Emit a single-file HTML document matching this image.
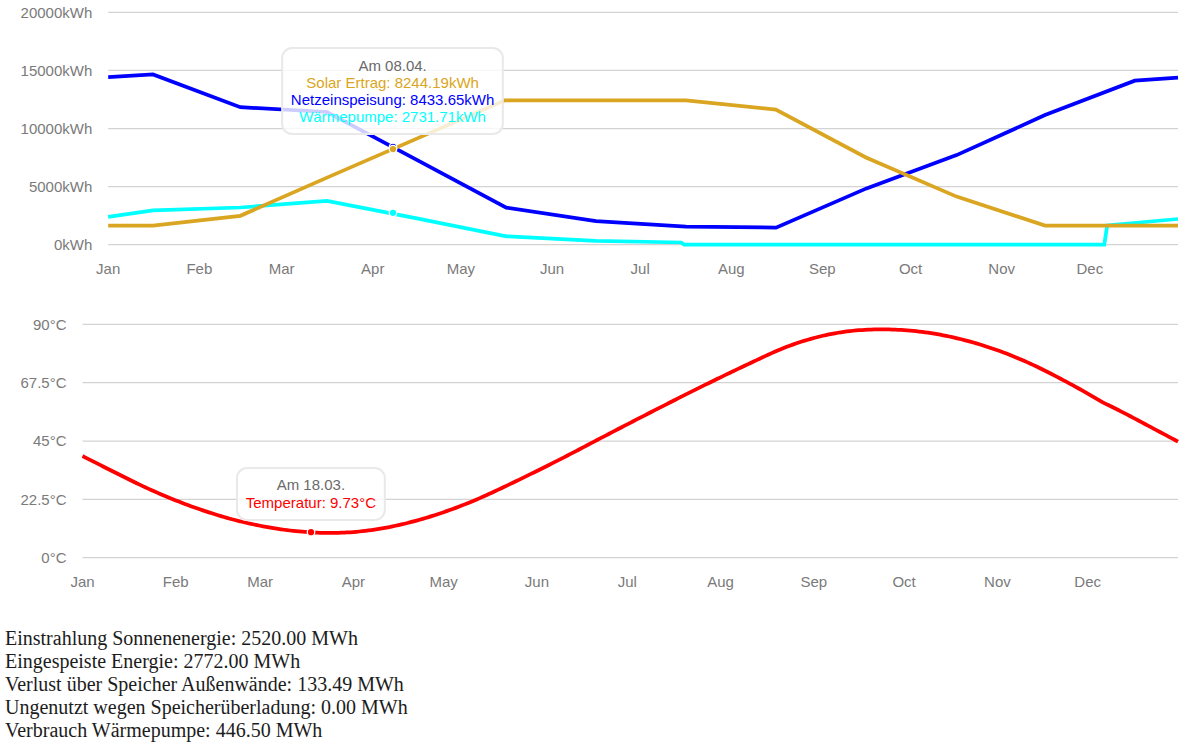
<!DOCTYPE html><html><head><meta charset="utf-8"><title>Solar</title><style>
html,body{margin:0;padding:0;background:#fff;}body{width:1191px;height:742px;overflow:hidden;}
svg{display:block;position:absolute;left:0;top:0;}
.t{font-family:"Liberation Sans",sans-serif;font-size:15px;fill:#7a7a7a;}
.s{font-family:"Liberation Serif",serif;font-size:20px;fill:#1c1c1c;}
.g{stroke:#d3d3d3;stroke-width:1.25;fill:none;}
.l{fill:none;stroke-width:3.75;stroke-linejoin:miter;stroke-linecap:butt;}
</style></head><body>
<svg width="1191" height="742" viewBox="0 0 1191 742">
<line class="g" x1="108.20" x2="1178.00" y1="12.38" y2="12.38"/>
<line class="g" x1="108.20" x2="1178.00" y1="70.46" y2="70.46"/>
<line class="g" x1="108.20" x2="1178.00" y1="128.55" y2="128.55"/>
<line class="g" x1="108.20" x2="1178.00" y1="186.64" y2="186.64"/>
<line class="g" x1="108.20" x2="1178.00" y1="244.72" y2="244.72"/>
<text class="t" x="92.3" y="17.57" text-anchor="end">20000kWh</text>
<text class="t" x="92.3" y="75.66" text-anchor="end">15000kWh</text>
<text class="t" x="92.3" y="133.75" text-anchor="end">10000kWh</text>
<text class="t" x="92.3" y="191.84" text-anchor="end">5000kWh</text>
<text class="t" x="92.3" y="249.92" text-anchor="end">0kWh</text>
<text class="t" x="108.20" y="274" text-anchor="middle">Jan</text>
<text class="t" x="199.31" y="274" text-anchor="middle">Feb</text>
<text class="t" x="281.60" y="274" text-anchor="middle">Mar</text>
<text class="t" x="372.71" y="274" text-anchor="middle">Apr</text>
<text class="t" x="460.88" y="274" text-anchor="middle">May</text>
<text class="t" x="551.99" y="274" text-anchor="middle">Jun</text>
<text class="t" x="640.16" y="274" text-anchor="middle">Jul</text>
<text class="t" x="731.27" y="274" text-anchor="middle">Aug</text>
<text class="t" x="822.38" y="274" text-anchor="middle">Sep</text>
<text class="t" x="910.55" y="274" text-anchor="middle">Oct</text>
<text class="t" x="1001.66" y="274" text-anchor="middle">Nov</text>
<text class="t" x="1089.83" y="274" text-anchor="middle">Dec</text>
<path class="l" stroke="#00ffff" d="M108.20,216.80 L153.00,210.40 L240.30,207.50 L327.00,201.00 L416.80,218.30 L506.30,236.30 L596.00,240.80 L681.30,242.50 L684.20,244.70 L1104.30,244.70 L1107.20,225.40 L1178.00,219.00"/>
<path class="l" stroke="#0000ff" d="M108.20,77.20 L153.00,74.40 L240.30,107.20 L327.00,112.00 L416.80,159.90 L506.30,207.60 L596.00,221.20 L686.00,226.60 L776.00,227.60 L866.50,188.40 L956.60,155.10 L1045.00,115.10 L1134.80,80.70 L1178.00,77.60"/>
<path class="l" stroke="#daa520" d="M108.20,225.50 L153.00,225.50 L240.30,215.80 L327.00,177.60 L416.80,138.60 L504.90,100.40 L596.00,100.40 L686.00,100.40 L775.80,109.60 L866.00,157.50 L956.60,196.60 L1045.00,225.50 L1178.00,225.50"/>
<circle cx="393.0" cy="212.85" r="3.75" fill="#00ffff" stroke="#fff" stroke-width="1.25"/>
<circle cx="393.0" cy="146.9" r="3.75" fill="#0000ff" stroke="#fff" stroke-width="1.25"/>
<circle cx="393.0" cy="149.0" r="3.75" fill="#daa520" stroke="#fff" stroke-width="1.25"/>
<rect x="282.15" y="48.0" width="220.7" height="86.0" rx="10" ry="10" fill="rgba(255,255,255,0.8)" stroke="#e9e9e9" stroke-width="2"/>
<text class="t" x="392.6" y="70.7" text-anchor="middle" style="fill:#6a6a6a">Am 08.04.</text>
<text class="t" x="392.6" y="87.8" text-anchor="middle" style="fill:#daa520">Solar Ertrag: 8244.19kWh</text>
<text class="t" x="392.6" y="104.9" text-anchor="middle" style="fill:#0000ff">Netzeinspeisung: 8433.65kWh</text>
<text class="t" x="392.6" y="122.0" text-anchor="middle" style="fill:#00ffff">Wärmepumpe: 2731.71kWh</text>
<line class="g" x1="82.50" x2="1178.00" y1="324.40" y2="324.40"/>
<line class="g" x1="82.50" x2="1178.00" y1="382.70" y2="382.70"/>
<line class="g" x1="82.50" x2="1178.00" y1="441.00" y2="441.00"/>
<line class="g" x1="82.50" x2="1178.00" y1="499.30" y2="499.30"/>
<line class="g" x1="82.50" x2="1178.00" y1="557.60" y2="557.60"/>
<text class="t" x="66.5" y="329.60" text-anchor="end">90°C</text>
<text class="t" x="66.5" y="387.90" text-anchor="end">67.5°C</text>
<text class="t" x="66.5" y="446.20" text-anchor="end">45°C</text>
<text class="t" x="66.5" y="504.50" text-anchor="end">22.5°C</text>
<text class="t" x="66.5" y="562.80" text-anchor="end">0°C</text>
<text class="t" x="82.50" y="586.7" text-anchor="middle">Jan</text>
<text class="t" x="175.80" y="586.7" text-anchor="middle">Feb</text>
<text class="t" x="260.07" y="586.7" text-anchor="middle">Mar</text>
<text class="t" x="353.37" y="586.7" text-anchor="middle">Apr</text>
<text class="t" x="443.65" y="586.7" text-anchor="middle">May</text>
<text class="t" x="536.95" y="586.7" text-anchor="middle">Jun</text>
<text class="t" x="627.24" y="586.7" text-anchor="middle">Jul</text>
<text class="t" x="720.54" y="586.7" text-anchor="middle">Aug</text>
<text class="t" x="813.84" y="586.7" text-anchor="middle">Sep</text>
<text class="t" x="904.12" y="586.7" text-anchor="middle">Oct</text>
<text class="t" x="997.42" y="586.7" text-anchor="middle">Nov</text>
<text class="t" x="1087.71" y="586.7" text-anchor="middle">Dec</text>
<path class="l" stroke="#ff0000" d="M82.50,456.02 L85.51,457.55 L88.52,459.09 L91.53,460.62 L94.54,462.14 L97.55,463.67 L100.56,465.19 L103.57,466.71 L106.58,468.23 L109.59,469.74 L112.60,471.25 L115.61,472.76 L118.62,474.26 L121.62,475.77 L124.63,477.27 L127.64,478.76 L130.65,480.26 L133.66,481.74 L136.67,483.20 L139.68,484.64 L142.69,486.07 L145.70,487.47 L148.71,488.85 L151.72,490.21 L154.73,491.56 L157.74,492.88 L160.75,494.19 L163.76,495.47 L166.77,496.73 L169.78,497.98 L172.79,499.20 L175.80,500.41 L178.81,501.59 L181.82,502.76 L184.83,503.90 L187.84,505.03 L190.85,506.14 L193.86,507.22 L196.87,508.29 L199.88,509.34 L202.88,510.36 L205.89,511.37 L208.90,512.36 L211.91,513.32 L214.92,514.27 L217.93,515.20 L220.94,516.11 L223.95,516.99 L226.96,517.85 L229.97,518.69 L232.98,519.50 L235.99,520.29 L239.00,521.06 L242.01,521.80 L245.02,522.52 L248.03,523.22 L251.04,523.89 L254.05,524.54 L257.06,525.17 L260.07,525.77 L263.08,526.35 L266.09,526.90 L269.10,527.43 L272.11,527.94 L275.12,528.42 L278.12,528.89 L281.13,529.32 L284.14,529.74 L287.15,530.13 L290.16,530.49 L293.17,530.84 L296.18,531.16 L299.19,531.45 L302.20,531.73 L305.21,531.97 L308.22,532.20 L311.23,532.40 L314.24,532.57 L317.25,532.71 L320.26,532.82 L323.27,532.90 L326.28,532.94 L329.29,532.96 L332.30,532.95 L335.31,532.91 L338.32,532.84 L341.33,532.74 L344.34,532.61 L347.35,532.45 L350.36,532.26 L353.37,532.03 L356.38,531.78 L359.38,531.50 L362.39,531.19 L365.40,530.85 L368.41,530.48 L371.42,530.08 L374.43,529.65 L377.44,529.19 L380.45,528.70 L383.46,528.17 L386.47,527.62 L389.48,527.04 L392.49,526.43 L395.50,525.79 L398.51,525.12 L401.52,524.42 L404.53,523.70 L407.54,522.95 L410.55,522.18 L413.56,521.39 L416.57,520.57 L419.58,519.73 L422.59,518.87 L425.60,517.98 L428.61,517.08 L431.62,516.14 L434.62,515.19 L437.63,514.21 L440.64,513.21 L443.65,512.19 L446.66,511.14 L449.67,510.07 L452.68,508.98 L455.69,507.87 L458.70,506.73 L461.71,505.57 L464.72,504.38 L467.73,503.17 L470.74,501.94 L473.75,500.69 L476.76,499.41 L479.77,498.11 L482.78,496.79 L485.79,495.45 L488.80,494.08 L491.81,492.69 L494.82,491.28 L497.83,489.87 L500.84,488.45 L503.85,487.02 L506.86,485.59 L509.87,484.16 L512.88,482.72 L515.88,481.27 L518.89,479.82 L521.90,478.36 L524.91,476.89 L527.92,475.42 L530.93,473.94 L533.94,472.46 L536.95,470.97 L539.96,469.47 L542.97,467.97 L545.98,466.46 L548.99,464.95 L552.00,463.43 L555.01,461.91 L558.02,460.38 L561.03,458.84 L564.04,457.30 L567.05,455.75 L570.06,454.19 L573.07,452.63 L576.08,451.07 L579.09,449.49 L582.10,447.92 L585.11,446.33 L588.12,444.75 L591.12,443.17 L594.13,441.59 L597.14,440.01 L600.15,438.44 L603.16,436.87 L606.17,435.30 L609.18,433.73 L612.19,432.16 L615.20,430.60 L618.21,429.03 L621.22,427.47 L624.23,425.91 L627.24,424.36 L630.25,422.80 L633.26,421.25 L636.27,419.70 L639.28,418.15 L642.29,416.60 L645.30,415.06 L648.31,413.51 L651.32,411.97 L654.33,410.43 L657.34,408.90 L660.35,407.36 L663.36,405.83 L666.37,404.30 L669.38,402.77 L672.38,401.24 L675.39,399.72 L678.40,398.20 L681.41,396.68 L684.42,395.16 L687.43,393.65 L690.44,392.15 L693.45,390.65 L696.46,389.15 L699.47,387.66 L702.48,386.17 L705.49,384.69 L708.50,383.21 L711.51,381.73 L714.52,380.26 L717.53,378.80 L720.54,377.33 L723.55,375.88 L726.56,374.42 L729.57,372.97 L732.58,371.53 L735.59,370.09 L738.60,368.65 L741.61,367.22 L744.62,365.79 L747.62,364.36 L750.63,362.95 L753.64,361.53 L756.65,360.12 L759.66,358.71 L762.67,357.31 L765.68,355.91 L768.69,354.52 L771.70,353.14 L774.71,351.81 L777.72,350.51 L780.73,349.26 L783.74,348.04 L786.75,346.86 L789.76,345.72 L792.77,344.62 L795.78,343.56 L798.79,342.54 L801.80,341.55 L804.81,340.61 L807.82,339.70 L810.83,338.83 L813.84,338.00 L816.85,337.21 L819.86,336.46 L822.87,335.75 L825.88,335.08 L828.88,334.44 L831.89,333.85 L834.90,333.29 L837.91,332.77 L840.92,332.29 L843.93,331.85 L846.94,331.45 L849.95,331.09 L852.96,330.76 L855.97,330.48 L858.98,330.23 L861.99,330.03 L865.00,329.85 L868.01,329.70 L871.02,329.58 L874.03,329.48 L877.04,329.42 L880.05,329.38 L883.06,329.38 L886.07,329.40 L889.08,329.45 L892.09,329.53 L895.10,329.64 L898.11,329.78 L901.12,329.94 L904.12,330.14 L907.13,330.36 L910.14,330.62 L913.15,330.90 L916.16,331.21 L919.17,331.55 L922.18,331.91 L925.19,332.31 L928.20,332.73 L931.21,333.19 L934.22,333.67 L937.23,334.18 L940.24,334.72 L943.25,335.29 L946.26,335.89 L949.27,336.51 L952.28,337.17 L955.29,337.85 L958.30,338.56 L961.31,339.30 L964.32,340.06 L967.33,340.85 L970.34,341.67 L973.35,342.52 L976.36,343.39 L979.37,344.29 L982.38,345.22 L985.38,346.17 L988.39,347.16 L991.40,348.16 L994.41,349.20 L997.42,350.27 L1000.43,351.36 L1003.44,352.47 L1006.45,353.62 L1009.46,354.79 L1012.47,355.99 L1015.48,357.22 L1018.49,358.47 L1021.50,359.76 L1024.51,361.07 L1027.52,362.40 L1030.53,363.76 L1033.54,365.16 L1036.55,366.57 L1039.56,368.02 L1042.57,369.49 L1045.58,370.99 L1048.59,372.51 L1051.60,374.04 L1054.61,375.58 L1057.62,377.14 L1060.62,378.72 L1063.63,380.31 L1066.64,381.92 L1069.65,383.54 L1072.66,385.18 L1075.67,386.83 L1078.68,388.50 L1081.69,390.18 L1084.70,391.88 L1087.71,393.60 L1090.72,395.33 L1093.73,397.07 L1096.74,398.83 L1099.75,400.61 L1102.76,402.40 L1105.77,403.85 L1108.78,405.31 L1111.79,406.79 L1114.80,408.28 L1117.81,409.79 L1120.82,411.31 L1123.83,412.85 L1126.84,414.41 L1129.85,415.98 L1132.86,417.56 L1135.87,419.16 L1138.88,420.77 L1141.88,422.38 L1144.89,423.99 L1147.90,425.59 L1150.91,427.20 L1153.92,428.80 L1156.93,430.40 L1159.94,432.00 L1162.95,433.61 L1165.96,435.21 L1168.97,436.81 L1171.98,438.41 L1174.99,440.00 L1178.00,441.60"/>
<circle cx="311.0" cy="532.2" r="3.75" fill="#ff0000" stroke="#fff" stroke-width="1.25"/>
<rect x="237.0" y="468.0" width="147.8" height="51.9" rx="10" ry="10" fill="rgba(255,255,255,0.8)" stroke="#e9e9e9" stroke-width="2"/>
<text class="t" x="310.9" y="490.4" text-anchor="middle" style="fill:#6a6a6a">Am 18.03.</text>
<text class="t" x="310.9" y="507.6" text-anchor="middle" style="fill:#ff0000">Temperatur: 9.73°C</text>
<text class="s" x="5" y="645">Einstrahlung Sonnenenergie: 2520.00 MWh</text>
<text class="s" x="5" y="668">Eingespeiste Energie: 2772.00 MWh</text>
<text class="s" x="5" y="691">Verlust über Speicher Außenwände: 133.49 MWh</text>
<text class="s" x="5" y="714">Ungenutzt wegen Speicherüberladung: 0.00 MWh</text>
<text class="s" x="5" y="737">Verbrauch Wärmepumpe: 446.50 MWh</text>
</svg></body></html>
